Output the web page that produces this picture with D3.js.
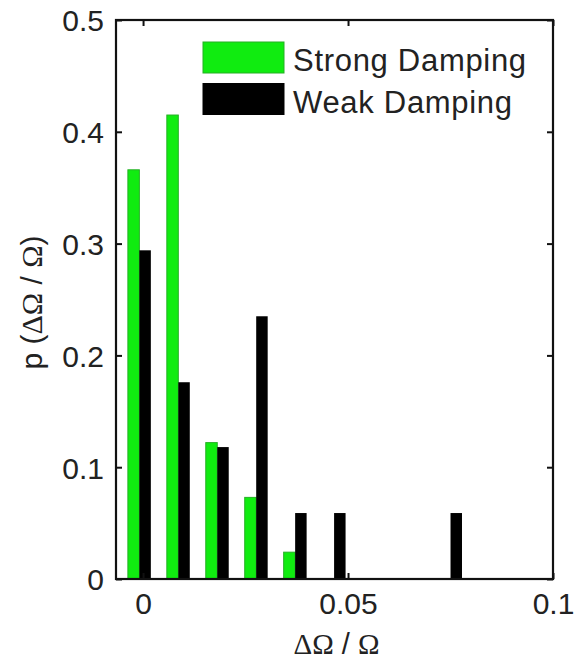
<!DOCTYPE html>
<html>
<head>
<meta charset="utf-8">
<script src="https://cdn.jsdelivr.net/npm/d3@7"></script>
<style>
  html, body { margin: 0; padding: 0; background: #fff; }
  svg { display: block; }
  text { font-family: "Liberation Sans", Arial, Helvetica, sans-serif; fill: #222; }
</style>
</head>
<body>
<svg id="chart" width="576" height="663"></svg>
<script>
// Histogram bin centres (ΔΩ / Ω)
const binCenters = [-0.0009, 0.0086, 0.0181, 0.0276, 0.0371, 0.0466, 0.0560, 0.0655, 0.0750];
// Probabilities per bin
const strongDamping = [0.366, 0.415, 0.122, 0.073, 0.024, 0, 0, 0, 0];
const weakDamping   = [0.294, 0.176, 0.118, 0.235, 0.059, 0.059, 0, 0, 0.059];
const seriesNames = ["Strong Damping", "Weak Damping"];
const xTicks = [0, 0.05, 0.1];
const yTicks = [0, 0.1, 0.2, 0.3, 0.4, 0.5];

const W = 576, H = 663;
const margin = { left: 116, right: 23, top: 20, bottom: 84 };
const plotL = margin.left, plotR = W - margin.right;
const plotT = margin.top, plotB = H - margin.bottom;

const svg = d3.select("#chart");

const x = d3.scaleLinear().domain([-0.0066, 0.1]).range([plotL, plotR]);
const y = d3.scaleLinear().domain([0, 0.5]).range([plotB, plotT]);

const barW = 0.0028; // width of one bar in data units
const colors = { strong: "#10ec10", strongEdge: "#25b025", weak: "#000" };

const bins = binCenters.map((c, i) => ({ c, s: strongDamping[i], w: weakDamping[i] }));

// Strong damping bars sit left of each bin centre
svg.append("g").selectAll("rect")
  .data(bins.filter(d => d.s > 0))
  .join("rect")
  .attr("x", d => x(d.c - barW))
  .attr("y", d => y(d.s))
  .attr("width", d => x(d.c) - x(d.c - barW))
  .attr("height", d => y(0) - y(d.s))
  .attr("fill", colors.strong)
  .attr("stroke", colors.strongEdge)
  .attr("stroke-width", 1);

// Weak damping bars sit right of each bin centre
svg.append("g").selectAll("rect")
  .data(bins.filter(d => d.w > 0))
  .join("rect")
  .attr("x", d => x(d.c))
  .attr("y", d => y(d.w))
  .attr("width", d => x(d.c + barW) - x(d.c))
  .attr("height", d => y(0) - y(d.w))
  .attr("fill", colors.weak);

// Axes: ticks pointing inward on all four sides, labels bottom and left
const tickLen = 6;
const axisFont = "30px";

const axBottom = svg.append("g").attr("transform", `translate(0,${plotB})`)
  .call(d3.axisBottom(x).tickValues(xTicks).tickSize(-tickLen).tickPadding(14)
        .tickFormat(d => d === 0 ? "0" : String(d)));
const axTop = svg.append("g").attr("transform", `translate(0,${plotT})`)
  .call(d3.axisTop(x).tickValues(xTicks).tickSize(-tickLen).tickFormat(""));
const axLeft = svg.append("g").attr("transform", `translate(${plotL},0)`)
  .call(d3.axisLeft(y).tickValues(yTicks).tickSize(-tickLen).tickPadding(12)
        .tickFormat(d => d === 0 ? "0" : String(d)));
const axRight = svg.append("g").attr("transform", `translate(${plotR},0)`)
  .call(d3.axisRight(y).tickValues(yTicks).tickSize(-tickLen).tickFormat(""));

[axBottom, axTop, axLeft, axRight].forEach(g => {
  g.select(".domain").remove();
  g.selectAll(".tick line").attr("stroke", "#111").attr("stroke-width", 2);
  g.selectAll(".tick text").style("font-size", axisFont).attr("fill", "#222");
});
axBottom.selectAll(".tick text").attr("dy", "0.7em");
axLeft.selectAll(".tick text").attr("dy", "0.36em");

// Box
svg.append("rect")
  .attr("x", plotL).attr("y", plotT)
  .attr("width", plotR - plotL).attr("height", plotB - plotT)
  .attr("fill", "none").attr("stroke", "#111").attr("stroke-width", 2.2);

// Axis titles
const greek = "\"Liberation Serif\", \"Times New Roman\", serif";
function ratioLabel(sel) {
  sel.append("tspan").style("font-family", greek).text("ΔΩ");
  sel.append("tspan").text(" / ");
  sel.append("tspan").style("font-family", greek).text("Ω");
}
const xt = svg.append("text")
  .attr("x", (plotL + plotR) / 2 + 2).attr("y", 654)
  .attr("text-anchor", "middle").style("font-size", "29px");
ratioLabel(xt);

const yt = svg.append("text")
  .attr("transform", `translate(42,${(plotT + plotB) / 2 + 3}) rotate(-90)`)
  .attr("text-anchor", "middle").style("font-size", "30px");
yt.append("tspan").text("p (");
ratioLabel(yt);
yt.append("tspan").text(")");

// Legend
const legend = svg.append("g");
const legendItems = [
  { name: seriesNames[0], fill: colors.strong, stroke: colors.strongEdge },
  { name: seriesNames[1], fill: colors.weak, stroke: colors.weak }
];
legendItems.forEach((it, i) => {
  const gy = 42 + i * 41.5;
  legend.append("rect")
    .attr("x", 203).attr("y", gy).attr("width", 81).attr("height", 31)
    .attr("fill", it.fill).attr("stroke", it.stroke).attr("stroke-width", 1);
  legend.append("text")
    .attr("x", 293).attr("y", gy + 29)
    .style("font-size", "31px")
    .style("letter-spacing", "0.7px")
    .text(it.name);
});
</script>
</body>
</html>
